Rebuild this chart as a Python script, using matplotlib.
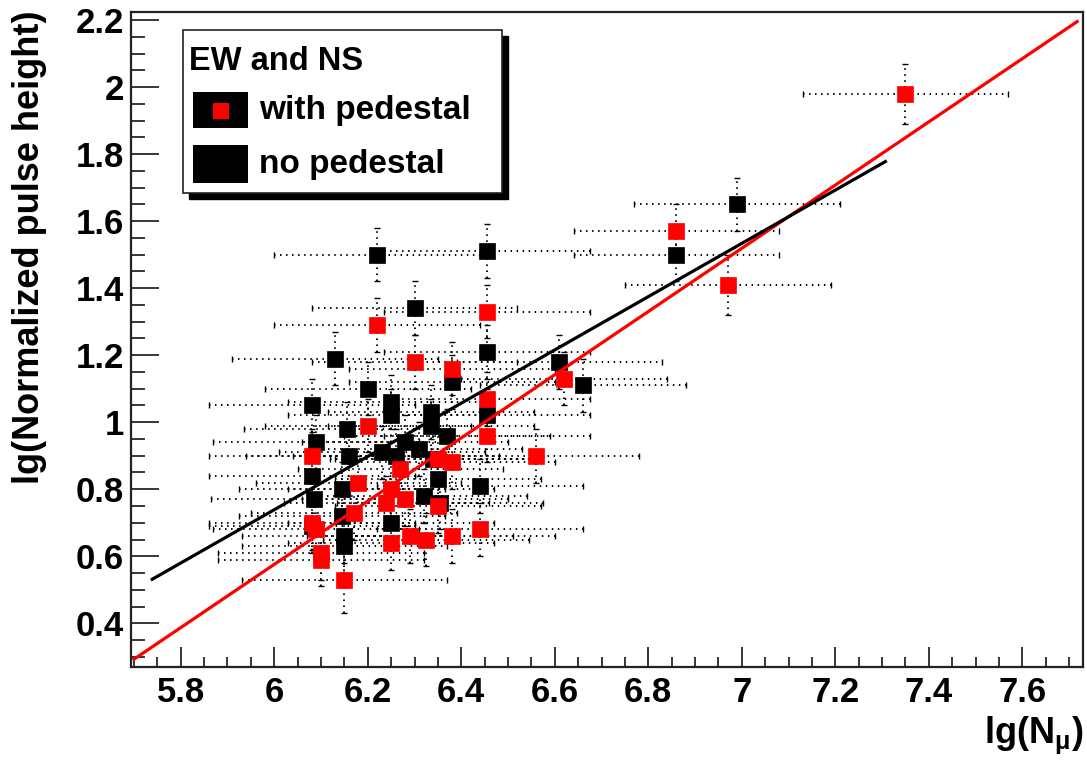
import matplotlib
matplotlib.use("Agg")
import matplotlib.pyplot as plt
from matplotlib.patches import Rectangle

# ---------------- data ----------------
red_x = [7.35, 6.86, 6.97, 6.62, 6.56, 6.455, 6.455, 6.455, 6.44, 6.30, 6.38, 6.22, 6.20,
         6.38, 6.325, 6.29, 6.25, 6.15, 6.10, 6.08, 6.09, 6.18, 6.17, 6.24, 6.27, 6.35,
         6.35, 6.38, 6.28, 6.10, 6.08, 6.25]
red_y = [1.98, 1.57, 1.41, 1.13, 0.90, 1.33, 1.07, 0.96, 0.68, 1.18, 1.16, 1.29, 0.99,
         0.66, 0.65, 0.66, 0.64, 0.53, 0.59, 0.90, 0.68, 0.82, 0.73, 0.76, 0.86, 0.75,
         0.89, 0.88, 0.77, 0.61, 0.70, 0.80]
red_xerr = [0.22] * len(red_x)
red_yerr = [0.09, 0.08, 0.09, 0.08, 0.08, 0.08, 0.08, 0.08, 0.08, 0.08, 0.08, 0.08, 0.08,
            0.08, 0.08, 0.08, 0.08, 0.10, 0.08, 0.08, 0.08, 0.08, 0.08, 0.08, 0.08, 0.08,
            0.08, 0.08, 0.08, 0.08, 0.08, 0.08]

black_x = [6.99, 6.86, 6.61, 6.66, 6.455, 6.455, 6.455, 6.44, 6.22, 6.30, 6.13, 6.20, 6.38,
           6.37, 6.08, 6.09, 6.155, 6.25, 6.25, 6.335, 6.335, 6.28, 6.26, 6.16, 6.08, 6.085,
           6.145, 6.145, 6.15, 6.08, 6.25, 6.32, 6.35, 6.34, 6.31, 6.355, 6.15, 6.23]
black_y = [1.65, 1.50, 1.18, 1.11, 1.51, 1.21, 1.02, 0.81, 1.50, 1.34, 1.19, 1.10, 1.12,
           0.96, 1.05, 0.94, 0.98, 1.06, 1.02, 1.03, 0.99, 0.94, 0.90, 0.90, 0.84, 0.77,
           0.80, 0.72, 0.63, 0.69, 0.70, 0.78, 0.83, 0.89, 0.92, 0.76, 0.66, 0.91]
black_xerr = [0.22] * len(black_x)
black_yerr = [0.08] * len(black_x)

red_fit_x = [5.697, 7.72]
red_fit_y = [0.29, 2.198]
black_fit_x = [5.736, 7.31]
black_fit_y = [0.529, 1.78]

x_ticks = [5.8, 6.0, 6.2, 6.4, 6.6, 6.8, 7.0, 7.2, 7.4, 7.6]
x_ticklabels = ["5.8", "6", "6.2", "6.4", "6.6", "6.8", "7", "7.2", "7.4", "7.6"]
y_ticks = [0.4, 0.6, 0.8, 1.0, 1.2, 1.4, 1.6, 1.8, 2.0, 2.2]
y_ticklabels = ["0.4", "0.6", "0.8", "1", "1.2", "1.4", "1.6", "1.8", "2", "2.2"]

legend_title = "EW and NS"
legend_labels = ["with pedestal", "no pedestal"]

# ---------------- style ----------------
FONT = "Liberation Sans"
plt.rcParams["font.family"] = [FONT, "DejaVu Sans"]
plt.rcParams["font.weight"] = "bold"
plt.rcParams["mathtext.fontset"] = "custom"
plt.rcParams["mathtext.rm"] = FONT + ":bold"
plt.rcParams["mathtext.it"] = FONT + ":bold"
plt.rcParams["mathtext.bf"] = FONT + ":bold"

W, H = 1087, 763
fig = plt.figure(figsize=(W / 100, H / 100), dpi=100)
fig.patch.set_facecolor("white")


def fx(px):
    return px / W


def fy(py):
    return 1 - py / H


L, R, T, B = 130.7, 1082.7, 12.3, 666.7
ax = fig.add_axes([fx(L), fy(B), fx(R) - fx(L), fy(T) - fy(B)])
ax.set_xlim(5.693, 7.729)
ax.set_ylim(0.2705, 2.223)

for s in ax.spines.values():
    s.set_linewidth(1.6)
    s.set_color("#222222")

ax.set_xticks(x_ticks)
ax.set_xticklabels(x_ticklabels)
ax.set_yticks(y_ticks)
ax.set_yticklabels(y_ticklabels)
ax.set_xticks([5.7 + 0.05 * i for i in range(41) if 5.693 <= 5.7 + 0.05 * i <= 7.729], minor=True)
ax.set_yticks([0.3 + 0.05 * i for i in range(39) if 0.2705 <= 0.3 + 0.05 * i <= 2.223], minor=True)
ax.tick_params(axis="x", which="major", direction="in", length=14.5, width=1.1,
               labelsize=25, pad=7, top=False)
ax.tick_params(axis="x", which="minor", direction="in", length=7.2, width=1.1, top=False)
ax.tick_params(axis="y", which="major", direction="in", length=20, width=1.1,
               labelsize=25, pad=5, right=False)
ax.tick_params(axis="y", which="minor", direction="in", length=10, width=1.1, right=False)
for lab in ax.get_xticklabels() + ax.get_yticklabels():
    lab.set_fontweight("bold")

# error bars + markers
dot = (0, (0.75, 2.35))
for xs, ys, xe, ye, col, z in [(black_x, black_y, black_xerr, black_yerr, "black", 3),
                               (red_x, red_y, red_xerr, red_yerr, "#ff0000", 4)]:
    eb = ax.errorbar(xs, ys, xerr=xe, yerr=ye, fmt="none", ecolor="black",
                     elinewidth=1.4, capsize=2.5, capthick=1.0, zorder=z)
    for c in eb[2]:
        c.set_linestyle(dot)
    ax.plot(xs, ys, ls="none", marker="s", ms=11.2, mfc=col, mec=col, mew=0.5, zorder=z + 0.5)

ax.plot(red_fit_x, red_fit_y, color="#ff0000", lw=2.3, zorder=6, solid_capstyle="butt")
ax.plot(black_fit_x, black_fit_y, color="black", lw=2.3, zorder=6, solid_capstyle="butt")

# axis titles
fig.text(fx(30), fy(10), "lg(Normalized pulse height)", rotation=90, ha="center",
         va="top", fontsize=26, fontweight="bold")
fig.text(fx(1083), fy(743), r"lg(N$_{\mu}$)", ha="right", va="baseline",
         fontsize=26, fontweight="bold")

# legend (ROOT style, with solid shadow)
lx0, ly0, lx1, ly1 = 183.3, 30, 501.7, 193.3
fig.patches.append(Rectangle((fx(lx0 + 6), fy(ly1 + 6)), fx(lx1) - fx(lx0), fy(ly0) - fy(ly1),
                             transform=fig.transFigure, facecolor="black", edgecolor="black",
                             zorder=10))
fig.patches.append(Rectangle((fx(lx0), fy(ly1)), fx(lx1) - fx(lx0), fy(ly0) - fy(ly1),
                             transform=fig.transFigure, facecolor="white", edgecolor="#222222",
                             lw=1.2, zorder=11))
fig.text(fx(189), fy(61), legend_title, ha="left", va="center", fontsize=23.5,
         fontweight="bold", zorder=12)
# entry boxes
fig.patches.append(Rectangle((fx(192.7), fy(128.3)), fx(248.3) - fx(192.7), fy(91.7) - fy(128.3),
                             transform=fig.transFigure, facecolor="black", edgecolor="none",
                             zorder=12))
fig.patches.append(Rectangle((fx(212.5), fy(119.3)), fx(228.5) - fx(212.5), fy(103) - fy(119.3),
                             transform=fig.transFigure, facecolor="#ff0000", edgecolor="none",
                             zorder=13))
fig.patches.append(Rectangle((fx(192.7), fy(182.7)), fx(248.3) - fx(192.7), fy(145) - fy(182.7),
                             transform=fig.transFigure, facecolor="black", edgecolor="none",
                             zorder=12))
fig.text(fx(259), fy(111), legend_labels[0], ha="left", va="center", fontsize=24,
         fontweight="bold", zorder=12)
fig.text(fx(259), fy(165), legend_labels[1], ha="left", va="center", fontsize=24,
         fontweight="bold", zorder=12)

fig.savefig("out.png", dpi=100, facecolor="white")
